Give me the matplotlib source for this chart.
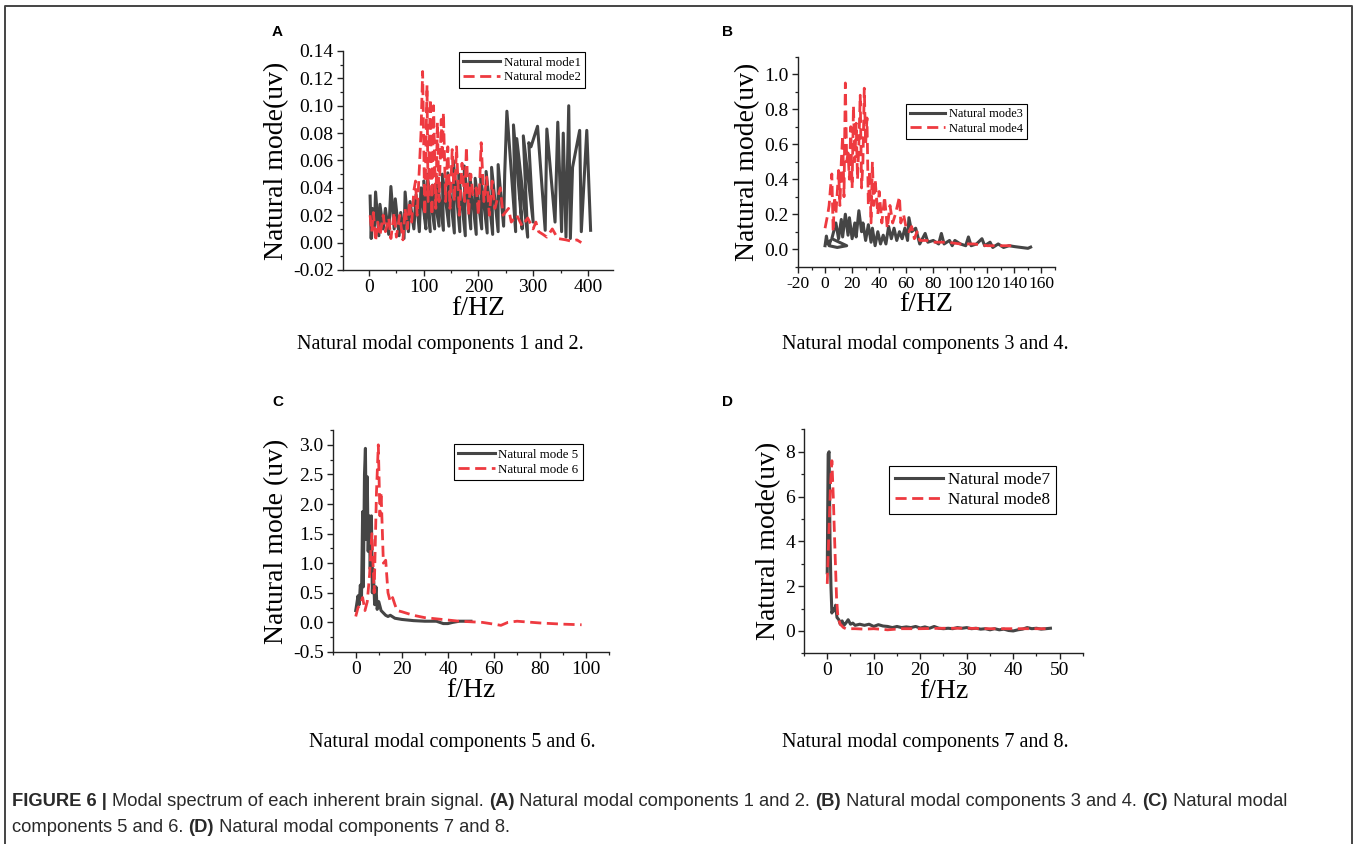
import matplotlib
matplotlib.use('Agg')
import matplotlib.pyplot as plt
from matplotlib.lines import Line2D
from matplotlib.ticker import MultipleLocator

# ---- data ----
# panel A
f_mode1 = [2, 4, 6, 10, 12, 18, 20, 26, 30, 36, 40, 46, 48, 55, 58, 64, 66, 72, 75, 82, 86, 92, 95,
           104, 100, 112, 106, 120, 116, 128, 124, 136, 134, 146, 144, 156, 154, 166, 164, 176, 174,
           186, 184, 196, 194, 206, 204, 216, 214, 226, 224, 236, 236, 246, 248, 252, 268, 264, 280,
           270, 290, 282, 300, 292, 296, 308, 322, 325, 340, 345, 352, 355, 360, 365, 368, 372, 385,
           388, 398, 405]
a_mode1 = [0.034, 0.003, 0.025, 0.012, 0.037, 0.005, 0.028, 0.010, 0.025, 0.006, 0.041, 0.010, 0.032,
           0.005, 0.022, 0.003, 0.037, 0.008, 0.030, 0.010, 0.035, 0.008, 0.040,
           0.010, 0.045, 0.008, 0.050, 0.010, 0.042, 0.012, 0.048, 0.009, 0.050, 0.012, 0.051, 0.007,
           0.060, 0.008, 0.050, 0.005, 0.056, 0.010, 0.050, 0.006, 0.047, 0.010, 0.049, 0.007, 0.052,
           0.006, 0.055, 0.008, 0.057, 0.012, 0.050, 0.096, 0.008, 0.086, 0.010, 0.076, 0.004, 0.078,
           0.015, 0.073, 0.070, 0.085, 0.009, 0.083, 0.015, 0.088, 0.008, 0.080, 0.004, 0.100, 0.003,
           0.055, 0.082, 0.008, 0.082, 0.009]
f_mode2 = [2, 5, 8, 12, 16, 20, 26, 30, 36, 40, 46, 50, 56, 62, 66, 70, 74, 78, 82, 85, 88, 95, 98,
           102, 106, 108, 112, 115, 118, 122, 125, 128, 132, 134, 136, 140, 144, 148, 152, 156, 160,
           165, 170, 175, 178, 182, 186, 190, 196, 200, 205, 210, 215, 220, 225, 230, 240, 245, 255,
           260, 270, 280, 290, 300, 305, 310, 318, 325, 330, 335, 345, 360, 370, 380, 388]
a_mode2 = [0.020, 0.008, 0.022, 0.001, 0.015, 0.005, 0.020, 0.008, 0.018, 0.003, 0.022, 0.004, 0.020,
           0.002, 0.025, 0.010, 0.030, 0.015, 0.038, 0.045, 0.020, 0.080, 0.125,
           0.020, 0.115, 0.030, 0.105, 0.020, 0.100, 0.025, 0.088, 0.030, 0.090, 0.060, 0.095, 0.030,
           0.070, 0.025, 0.068, 0.030, 0.070, 0.020, 0.058, 0.030, 0.070, 0.020, 0.050, 0.035, 0.040,
           0.020, 0.073, 0.030, 0.048, 0.020, 0.045, 0.025, 0.040, 0.020, 0.025, 0.015, 0.020, 0.012,
           0.018, 0.010, 0.015, 0.008, 0.006, 0.004, 0.007, 0.010, 0.003, 0.002, 0.001, 0.002, 0.000]

# panel B
f_mode3 = [0, 1, 2, 4, 3, 9, 16, 5, 8, 10, 12, 13, 15, 17, 18, 20, 22, 23, 25, 27, 28, 30, 32, 34,
           35, 37, 39, 41, 43, 45, 47, 49, 51, 53, 55, 57, 59, 61, 62, 64, 67, 70, 74, 76, 80, 84,
           86, 88, 92, 94, 96, 100, 104, 106, 108, 112, 116, 118, 122, 124, 128, 132, 136, 140, 145,
           150, 152]
a_mode3 = [0.02, 0.075, 0.03, 0.05, 0.02, 0.01, 0.02, 0.06, 0.15, 0.06, 0.17, 0.07, 0.20, 0.08,
           0.18, 0.06, 0.15, 0.07, 0.22, 0.10, 0.15, 0.05, 0.14, 0.04, 0.12, 0.02, 0.10, 0.03, 0.08,
           0.03, 0.13, 0.06, 0.12, 0.05, 0.10, 0.06, 0.12, 0.05, 0.18, 0.10, 0.12, 0.03, 0.09, 0.04,
           0.05, 0.03, 0.09, 0.03, 0.05, 0.02, 0.05, 0.03, 0.02, 0.07, 0.02, 0.03, 0.06, 0.02, 0.04,
           0.01, 0.03, 0.01, 0.02, 0.015, 0.01, 0.005, 0.012]
f_mode4 = [0, 2, 3, 4, 5, 6, 7, 8, 9, 10, 11, 12, 13, 14, 15, 16, 17, 18, 19, 20, 21, 22, 23, 24,
           25, 26, 27, 28, 29, 30, 31, 32, 33, 34, 35, 36, 37, 39, 40, 42, 44, 46, 48, 50, 52, 55,
           56, 58, 60, 62, 64, 66, 68, 70, 75, 80, 90, 100, 110, 120, 130, 140]
a_mode4 = [0.12, 0.20, 0.25, 0.35, 0.43, 0.10, 0.30, 0.20, 0.32, 0.45, 0.25, 0.50, 0.65, 0.30, 0.95,
           0.50, 0.55, 0.40, 0.70, 0.35, 0.82, 0.50, 0.72, 0.40, 0.60, 0.88, 0.35, 0.50, 0.92, 0.60,
           0.75, 0.25, 0.45, 0.15, 0.50, 0.25, 0.40, 0.20, 0.33, 0.15, 0.30, 0.12, 0.25, 0.15, 0.20,
           0.30, 0.15, 0.20, 0.12, 0.10, 0.13, 0.06, 0.10, 0.05, 0.05, 0.04, 0.04, 0.03, 0.03, 0.02,
           0.02, 0.02]

# panel C
f_mode5 = [0, 1, 1.5, 2, 2.5, 3, 3.3, 3.8, 4.2, 4.6, 5, 5.4, 5.8, 6.3, 6.8, 7.2, 7.6, 8.2, 8.8,
           9.3, 10, 11, 12, 13, 14, 15, 17, 20, 25, 30, 35, 38, 40, 42, 45, 50]
a_mode5 = [0.20, 0.45, 0.30, 0.63, 0.40, 1.87, 0.60, 2.50, 2.94, 1.40, 2.46, 1.20, 1.80, 0.90, 1.80,
           0.50, 0.90, 0.30, 0.60, 0.22, 0.35, 0.20, 0.16, 0.12, 0.10, 0.12, 0.07, 0.05, 0.03, 0.02,
           0.02, -0.02, -0.02, 0.00, 0.02, 0.02]
f_mode6 = [0, 1, 2, 3, 4, 5, 6, 7, 8, 9, 9.8, 10.5, 11, 12, 13, 14, 15, 16, 17, 18, 20, 25, 30, 35,
           40, 45, 50, 55, 60, 63, 66, 70, 80, 90, 98]
a_mode6 = [0.10, 0.25, 0.30, 0.42, 0.20, 0.35, 0.80, 1.50, 0.50, 2.20, 3.00, 1.80, 2.20, 1.00, 1.05,
           0.50, 0.35, 0.42, 0.30, 0.20, 0.18, 0.12, 0.08, 0.06, 0.04, 0.02, 0.01, 0.00, -0.03, -0.05,
           0.00, 0.02, -0.01, -0.03, -0.04]

# panel D
f_mode7 = [0, 0.2, 0.4, 0.6, 0.8, 1.0, 1.3, 1.6, 1.8, 2.1, 2.5, 2.8, 3.2, 3.6, 4, 4.5, 5, 5.5, 6, 7,
           8, 9, 10, 11, 12, 13, 14, 15, 16, 17, 18, 19, 20, 21, 22, 23, 24, 25, 26, 27, 28, 29, 30,
           31, 32, 33, 34, 35, 36, 37, 38, 39, 40, 41, 42, 43, 44, 45, 46, 47, 48]
a_mode7 = [2.6, 7.9, 8.0, 4.0, 2.0, 0.8, 1.0, 0.9, 1.15, 0.6, 0.5, 0.3, 0.45, 0.25, 0.35, 0.5, 0.3,
           0.35, 0.25, 0.3, 0.25, 0.3, 0.2, 0.28, 0.22, 0.2, 0.15, 0.2, 0.15, 0.18, 0.15, 0.2, 0.13,
           0.18, 0.12, 0.2, 0.12, 0.1, 0.12, 0.1, 0.15, 0.12, 0.15, 0.1, 0.12, 0.08, 0.1, 0.05, 0.1,
           0.05, 0.08, 0.02, 0.0, 0.05, 0.08, 0.15, 0.1, 0.12, 0.08, 0.1, 0.12]
f_mode8 = [0, 0.3, 0.7, 1.0, 1.3, 1.6, 2.0, 2.3, 2.8, 3.5, 4, 6, 8, 10, 13, 16, 20, 25, 30, 35, 40,
           45, 48]
a_mode8 = [2.1, 4.0, 6.5, 7.6, 6.0, 4.0, 1.5, 0.6, 0.3, 0.15, 0.1, 0.1, 0.08, 0.1, 0.05, 0.1, 0.1,
           0.12, 0.12, 0.1, 0.1, 0.1, 0.1]

DARK = '#454545'
RED = '#ee3a40'

plt.rcParams['font.family'] = ['Liberation Serif', 'DejaVu Serif']
plt.rcParams['axes.unicode_minus'] = False

fig = plt.figure(figsize=(13.59, 8.44), dpi=100)

panels = [
    dict(rect=[0.2522, 0.6801, 0.1989, 0.2595],
         data=[(f_mode1, a_mode1), (f_mode2, a_mode2)],
         labels=['Natural mode1', 'Natural mode2'],
         xlim=(-48, 446), ylim=(-0.02, 0.14), xt=(100, 50), yt=(0.02, 0.01), xfs=14,
         ylabel='Natural mode(uv)', xlabel='f/HZ', leg=(0.43, 0.995), legfs=9.3,
         yfmt='%.2f', letter='A', lx=272, ly=32, sub='Natural modal components 1 and 2.', subx=440, suby=344),
    dict(rect=[0.5872, 0.6840, 0.1891, 0.2488],
         data=[(f_mode3, a_mode3), (f_mode4, a_mode4)],
         labels=['Natural mode3', 'Natural mode4'],
         xlim=(-20, 170), ylim=(-0.1, 1.1), xt=(20, 10), yt=(0.2, 0.1), xfs=12.6,
         ylabel='Natural mode(uv)', xlabel='f/HZ', leg=(0.42, 0.775), legfs=8.9,
         yfmt='%.1f', letter='B', lx=722, ly=32, sub='Natural modal components 3 and 4.', subx=925, suby=344),
    dict(rect=[0.2448, 0.2275, 0.2035, 0.2630],
         data=[(f_mode5, a_mode5), (f_mode6, a_mode6)],
         labels=['Natural mode 5', 'Natural mode 6'],
         xlim=(-10, 110), ylim=(-0.5, 3.25), xt=(20, 10), yt=(0.5, 0.25), xfs=14,
         ylabel='Natural mode (uv)', xlabel='f/Hz', leg=(0.438, 0.935), legfs=9.3,
         yfmt='%.1f', letter='C', lx=272, ly=402, sub='Natural modal components 5 and 6.', subx=452, suby=742),
    dict(rect=[0.5916, 0.2259, 0.2053, 0.2654],
         data=[(f_mode7, a_mode7), (f_mode8, a_mode8)],
         labels=['Natural mode7', 'Natural mode8'],
         xlim=(-5, 55), ylim=(-1, 9), xt=(10, 5), yt=(2, 1), xfs=14,
         ylabel='Natural mode(uv)', xlabel='f/Hz', leg=(0.305, 0.835), legfs=12.3,
         yfmt='%d', letter='D', lx=722, ly=402, sub='Natural modal components 7 and 8.', subx=925, suby=742),
]

W, H = 1359, 844

for p in panels:
    ax = fig.add_axes(p['rect'])
    (fa, aa), (fb, ab) = p['data']
    ax.plot(fa, aa, color=DARK, lw=2.2, label=p['labels'][0])
    ax.plot(fb, ab, color=RED, lw=2.0, ls=(0, (4, 2)), label=p['labels'][1])
    ax.set_xlim(*p['xlim'])
    ax.set_ylim(*p['ylim'])
    ax.xaxis.set_major_locator(MultipleLocator(p['xt'][0]))
    ax.xaxis.set_minor_locator(MultipleLocator(p['xt'][1]))
    ax.yaxis.set_major_locator(MultipleLocator(p['yt'][0]))
    ax.yaxis.set_minor_locator(MultipleLocator(p['yt'][1]))
    ax.yaxis.set_major_formatter(matplotlib.ticker.FormatStrFormatter(p['yfmt']))
    for s in ['top', 'right']:
        ax.spines[s].set_visible(False)
    for s in ['left', 'bottom']:
        ax.spines[s].set_linewidth(1.0)
        ax.spines[s].set_color('#222222')
    ax.tick_params(which='major', direction='out', length=4, width=1.0, labelsize=14,
                   color='#222222', pad=2.5)
    ax.tick_params(axis='x', which='major', labelsize=p['xfs'])
    ax.tick_params(which='minor', direction='out', length=2.5, width=0.9, color='#222222')
    ax.set_ylabel(p['ylabel'], fontsize=20, labelpad=3)
    ax.set_xlabel(p['xlabel'], fontsize=20, labelpad=0)
    leg = ax.legend(loc='upper left', bbox_to_anchor=p['leg'], borderaxespad=0,
                    fontsize=p['legfs'], fancybox=False, framealpha=1, edgecolor='black',
                    handlelength=2.8, handletextpad=0.3, borderpad=0.35, labelspacing=0.2)
    leg.get_frame().set_linewidth(0.8)

    fig.text(p['lx'] / W, 1 - p['ly'] / H, p['letter'], family='Liberation Sans', weight='bold',
             fontsize=11, ha='left', va='center')
    fig.text(p['subx'] / W, 1 - p['suby'] / H, p['sub'], fontsize=14.5, ha='center', va='center')

# frame around the figure
fig.add_artist(Line2D([5 / W, 5 / W, 1352 / W, 1352 / W], [-0.05, 1 - 6 / H, 1 - 6 / H, -0.05],
                      transform=fig.transFigure, color='#444444', lw=1.4))

# caption, mixed bold / regular runs
cap_font = ['Liberation Sans']
line1 = [('FIGURE 6 | ', 'bold'), ('Modal spectrum of each inherent brain signal. ', 'normal'),
         ('(A)', 'bold'), (' Natural modal components 1 and 2. ', 'normal'),
         ('(B)', 'bold'), (' Natural modal components 3 and 4. ', 'normal'),
         ('(C)', 'bold'), (' Natural modal', 'normal')]
line2 = [('components 5 and 6. ', 'normal'), ('(D)', 'bold'),
         (' Natural modal components 7 and 8.', 'normal')]

renderer = fig.canvas.get_renderer()
for runs, ypix in [(line1, 801), (line2, 827)]:
    x = 12
    for txt, wt in runs:
        t = fig.text(x / W, 1 - ypix / H, txt, family=cap_font, weight=wt, fontsize=13.2,
                     ha='left', va='center', color='#2a2a2a')
        bb = t.get_window_extent(renderer=renderer)
        x += bb.width

fig.savefig('out.png', dpi=100)
